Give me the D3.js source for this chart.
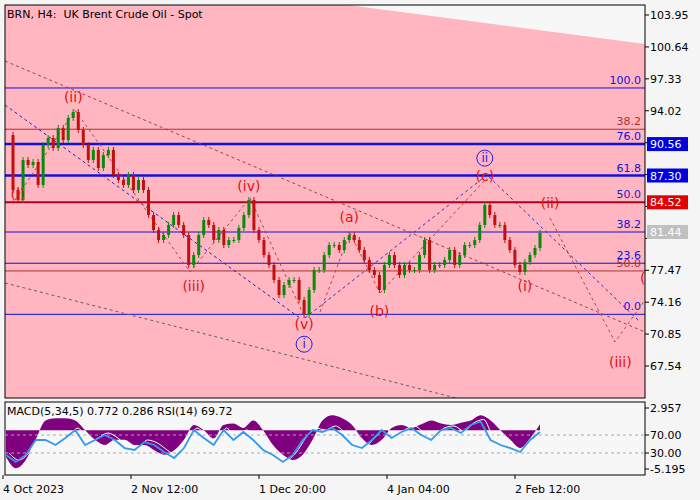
<!DOCTYPE html>
<html><head><meta charset="utf-8">
<script src="https://cdn.jsdelivr.net/npm/d3@7"></script>
<style>body{margin:0;background:#f5f5f5}text{font-family:Tahoma,"DejaVu Sans",sans-serif}</style>
</head><body><svg id="vis" width="700" height="500"></svg>
<script>
const closes = [91.5,85.8,84.76,88.91,88.39,88.7,86.32,90.46,91.19,90.15,92.23,90.98,93.27,93.89,92.02,90.46,88.91,89.95,88.08,89.43,89.95,87.35,86.83,86.32,87.35,85.8,86.83,85.8,83.2,81.65,80.61,81.13,82.17,83.2,82.17,81.13,78.02,79.05,81.13,82.68,82.17,80.61,81.65,80.09,80.61,80.61,81.86,83.2,84.76,81.65,80.61,79.05,78.02,76.46,74.9,75.94,76.46,76.46,74.39,72.83,75.42,77.5,77.5,79.05,80.09,80.09,79.57,80.61,81.13,80.61,79.57,78.54,77.5,76.98,75.42,78.02,79.05,78.02,76.98,78.02,77.5,77.5,79.05,80.61,77.5,78.02,78.02,78.54,79.57,78.02,79.05,80.09,80.09,80.61,82.17,84.24,83.2,82.17,82.17,80.61,79.57,78.02,77.29,78.33,79.05,79.78,81.34];
const macd = [-3.6,-5.1,-4.0,-1.3,1.3,1.6,1.6,1.3,0,-1.3,-2.0,-1.3,-1.3,-2.0,-2.0,-2.7,-3.3,-2.7,-1.3,0.7,0,-1.1,0.7,0.9,0.3,1.3,0,-2.0,-3.3,-4.0,-3.3,-1.3,1.3,2.0,1.6,0.7,-1.1,-2.0,-1.3,0.3,0.7,0.3,0.8,1.3,0.9,0.7,1.0,1.3,2.0,1.3,0,-1.3,-2.4,-1.1,0.77];
const rsi = [25.6,10,25.6,58.9,58.9,47.8,63.3,81,47.8,58.9,70,58.9,41,36.7,54.4,47.8,32.2,18.9,41,81,63.3,47.8,81,58.9,76.7,58.9,36.7,25.6,10,25.6,58.9,81,76.7,85.6,70,47.8,41,58.9,81,63.3,76.7,85.6,70,58.9,81,85.6,74.4,92.2,100,58.9,47.8,41,32.2,58.9,76.7];
const priceTicks = [103.95,100.64,97.33,94.02,90.71,87.40,84.09,80.78,77.47,74.16,70.85,67.54];
const hiddenTicks = [90.71,87.40,84.09,80.78];
const dateLabels = ['4 Oct 2023','2 Nov 12:00','1 Dec 20:00','4 Jan 04:00','2 Feb 12:00'];
// fib levels: price, label, colour, width
const fibLevels = [
  [96.38,'100.0','#1010e0',1],[92.1,'38.2','#b03030',1],[90.56,'76.0','#1010e0',2.5],
  [87.30,'61.8','#1010e0',2.5],[84.52,'50.0','#b00020',2],[81.44,'38.2','#1010e0',1],
  [78.2,'23.6','#1010e0',1],[77.4,'50.0','#b03030',1],[72.9,'0.0','#1010e0',1]];
const priceBoxes = [[90.56,'#0000e0','#fff'],[87.30,'#0000e0','#fff'],[84.52,'#e00000','#fff'],[81.44,'#c0c0c0','#fff']];
// wave labels: bar index, price, text
const waveLabels = [[2,84.9,'(i)'],[13,94.9,'(ii)'],[37,75.3,'(iii)'],[48,85.7,'(iv)'],[59,71.4,'(v)'],[68,82.5,'(a)'],[74,72.7,'(b)'],[95,86.7,'(c)'],[103,75.3,'(i)'],[108,83.9,'(ii)'],[122,67.4,'(iii)']];
const circled = [[59,69.8,'i'],[95,89.1,'ii']];

const svg = d3.select('#vis');
const L = 5, R = 645, T = 5, B = 398;
const y = d3.scaleLinear().domain([67.54,103.95]).range([366,15]);
const x = d3.scaleLinear().domain([0, closes.length-1]).range([8,540]);

svg.append('rect').attr('x',L).attr('y',T).attr('width',R-L).attr('height',B-T).attr('fill','#f7f7f7');
svg.append('clipPath').attr('id','c').append('rect').attr('x',L).attr('y',T).attr('width',R-L).attr('height',B-T);
const g = svg.append('g').attr('clip-path','url(#c)');
g.append('polygon').attr('points',`${L},-40 ${R},44 ${R},${B} ${L},${B}`).attr('fill','#ffb6c1');

fibLevels.forEach(([p,t,c,w]) => {
  g.append('line').attr('x1',L).attr('x2',R).attr('y1',y(p)).attr('y2',y(p)).attr('stroke',c).attr('stroke-width',w);
  g.append('text').attr('x',R-4).attr('y',y(p)-4).attr('text-anchor','end').attr('font-size',11).attr('fill',c==='#b00020'?'#2020c0':c).text(t);
});

const dash = (pts,c) => g.append('polyline').attr('points',pts.map(d=>d.join(',')).join(' ')).attr('fill','none').attr('stroke',c).attr('stroke-dasharray','3,3').attr('stroke-width',1);
dash([[L,61],[R,332]],'#a04040');
dash([[L,283],[456,398]],'#606060');
dash([[L,105],[300,318]],'#2020c0');
dash([[15,200],[75,110],[190,272],[250,198],[305,318]],'#c04040');
dash([[305,318],[487,175],[640,322]],'#3030c0');
dash([[380,293],[487,178]],'#c04040');
dash([[320,312],[350,233],[380,293]],'#c04040');
dash([[550,218],[615,342],[645,300]],'#c04040');

closes.forEach((c,i) => {
  if (i===0) return;
  const o = closes[i-1];
  const col = c>=o ? '#0a8a0a' : '#c01010';
  g.append('line').attr('x1',x(i)).attr('x2',x(i)).attr('y1',y(Math.max(o,c))-3).attr('y2',y(Math.min(o,c))+3).attr('stroke',col);
  g.append('rect').attr('x',x(i)-1.5).attr('width',3).attr('y',y(Math.max(o,c))).attr('height',Math.max(1,Math.abs(y(o)-y(c)))).attr('fill',col);
});

waveLabels.forEach(([i,p,t]) => g.append('text').attr('x',x(i)).attr('y',y(p)).attr('text-anchor','middle').attr('font-size',14).attr('fill','#e01010').text(t));
circled.forEach(([i,p,t]) => {
  g.append('circle').attr('cx',x(i)).attr('cy',y(p)).attr('r',8).attr('fill','none').attr('stroke','#2020e0');
  g.append('text').attr('x',x(i)).attr('y',y(p)+4).attr('text-anchor','middle').attr('font-size',12).attr('fill','#2020e0').text(t);
});
g.append('text').attr('x',640).attr('y',283).attr('font-size',14).attr('fill','#e01010').text('(');

svg.append('rect').attr('x',L).attr('y',T).attr('width',R-L).attr('height',B-T).attr('fill','none').attr('stroke','#000');
svg.append('text').attr('x',7).attr('y',18).attr('font-size',11).attr('xml:space','preserve').text('BRN, H4:  UK Brent Crude Oil - Spot');

priceTicks.forEach(p => {
  svg.append('line').attr('x1',R).attr('x2',R+4).attr('y1',y(p)).attr('y2',y(p)).attr('stroke','#000');
  if (!hiddenTicks.includes(p))
    svg.append('text').attr('x',R+5).attr('y',y(p)+4).attr('font-size',11).text(p.toFixed(2));
});
priceBoxes.forEach(([p,bg,fg]) => {
  svg.append('rect').attr('x',R+2).attr('y',y(p)-7).attr('width',41).attr('height',14).attr('fill',bg);
  svg.append('text').attr('x',R+5).attr('y',y(p)+4).attr('font-size',11).attr('fill',fg).text(p.toFixed(2));
});

// indicator panel
const IT = 402, IB = 475;
svg.append('rect').attr('x',L).attr('y',IT).attr('width',R-L).attr('height',IB-IT).attr('fill','#f7f7f7').attr('stroke','#000');
const ym = d3.scaleLinear().domain([-5.195,2.957]).range([469,408]);
const yr = d3.scaleLinear().domain([30,70]).range([453,435]);
const xm = d3.scaleLinear().domain([0,macd.length-1]).range([6,540]);
svg.append('path').datum(macd).attr('fill','#800080')
  .attr('d',d3.area().x((d,i)=>xm(i)).y0(ym(0)).y1(d=>ym(d)).curve(d3.curveMonotoneX));
[70,30].forEach(v => svg.append('line').attr('x1',L).attr('x2',R).attr('y1',yr(v)).attr('y2',yr(v)).attr('stroke','#aaa').attr('stroke-dasharray','3,3'));
svg.append('path').datum(rsi).attr('fill','none').attr('stroke','#fff').attr('stroke-width',1)
  .attr('d',d3.line().x((d,i)=>xm(i)+3).y(d=>yr(d)-2).curve(d3.curveMonotoneX));
svg.append('path').datum(rsi).attr('fill','none').attr('stroke','#3399ee').attr('stroke-width',1.8)
  .attr('d',d3.line().x((d,i)=>xm(i)).y(d=>yr(d)));
svg.append('text').attr('x',7).attr('y',415).attr('font-size',11).text('MACD(5,34,5) 0.772 0.286 RSI(14) 69.72');
[[2.957,ym],[70,yr],[30,yr],[-5.195,ym]].forEach(([v,s]) => {
  svg.append('line').attr('x1',R).attr('x2',R+4).attr('y1',s(v)).attr('y2',s(v)).attr('stroke','#000');
  svg.append('text').attr('x',R+5).attr('y',s(v)+4).attr('font-size',11).text(Math.abs(v)>10?v.toFixed(2):v.toFixed(3));
});

const xd = d3.scalePoint().domain(dateLabels).range([3,515]);
dateLabels.forEach(d => {
  svg.append('line').attr('x1',xd(d)).attr('x2',xd(d)).attr('y1',IB).attr('y2',IB+4).attr('stroke','#000');
  svg.append('text').attr('x',xd(d)).attr('y',493).attr('font-size',11).text(d);
});
</script></body></html>
